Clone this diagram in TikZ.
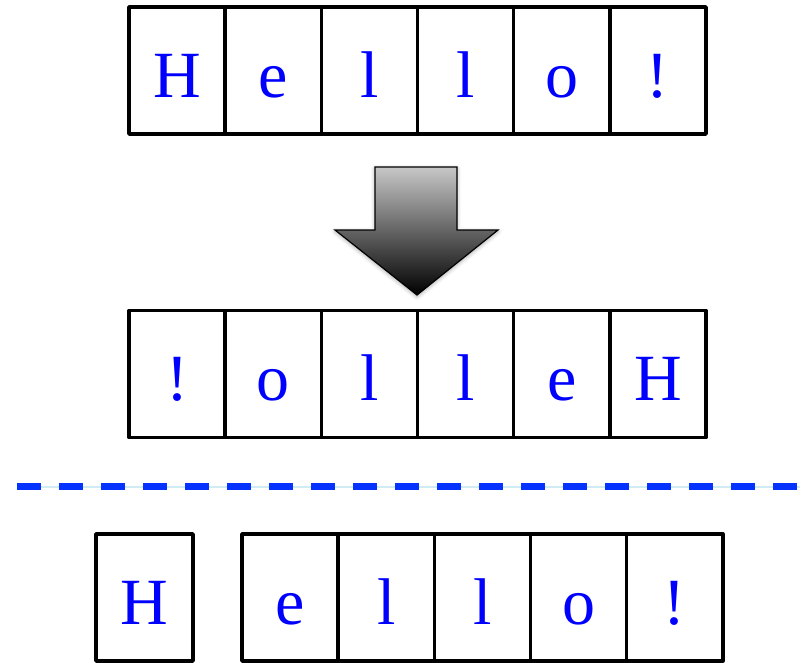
\documentclass[tikz,border=0pt]{standalone}
\usepackage{fontspec}
\setmainfont{Liberation Serif}
\usetikzlibrary{shadows.blur}
\definecolor{letterblue}{RGB}{0,0,255}
\definecolor{dashblue}{RGB}{5,50,255}
\definecolor{guidecyan}{RGB}{208,236,242}
\tikzset{
  cell/.style={draw, line width=3.5pt, line join=round,
    minimum width=96.17pt, minimum height=127pt, inner sep=0pt,
    text height=53pt, text depth=0pt,
    font=\fontsize{66}{66}\selectfont, text=letterblue},
  blockarrow/.style={draw=black, line width=1.2pt, line join=miter,
    top color=black!22, bottom color=black,
    blur shadow={shadow xshift=0pt, shadow yshift=-1.5pt,
      shadow blur radius=4pt, shadow opacity=35}},
  guide/.style={guidecyan, line width=2pt},
  separator/.style={dashblue, line width=6.5pt, dash pattern=on 24pt off 18pt}
}
\begin{document}
\begin{tikzpicture}[x=1pt,y=-1pt]
\useasboundingbox (0,0) rectangle (806,662);

% original string
\foreach \ch [count=\i] in {H,e,l,l,o,!}
  \node[cell] (top\i) at ({129+96.17*(\i-0.5)}, 70.5) {\ch};

% block arrow pointing down
\path[blockarrow] (375,167) -- (457,167) -- (457,230) -- (498,230)
  -- (417,295) -- (335,230) -- (375,230) -- cycle;

% reversed string
\foreach \ch [count=\i] in {!,o,l,l,e,H}
  \node[cell] (mid\i) at ({129+96.17*(\i-0.5)}, 374) {\ch};

% separator line
\coordinate (sepL) at (17,486.5);
\coordinate (sepR) at (800,486.5);
\draw[guide] (sepL) -- (sepR);
\draw[separator] (sepL) -- (sepR);

% first character split from the rest
\node[cell, minimum width=97pt] (head) at (144.5, 597.5) {H};
\foreach \ch [count=\i] in {e,l,l,o,!}
  \node[cell] (rest\i) at ({242+96.17*(\i-0.5)}, 597.5) {\ch};
\end{tikzpicture}
\end{document}
